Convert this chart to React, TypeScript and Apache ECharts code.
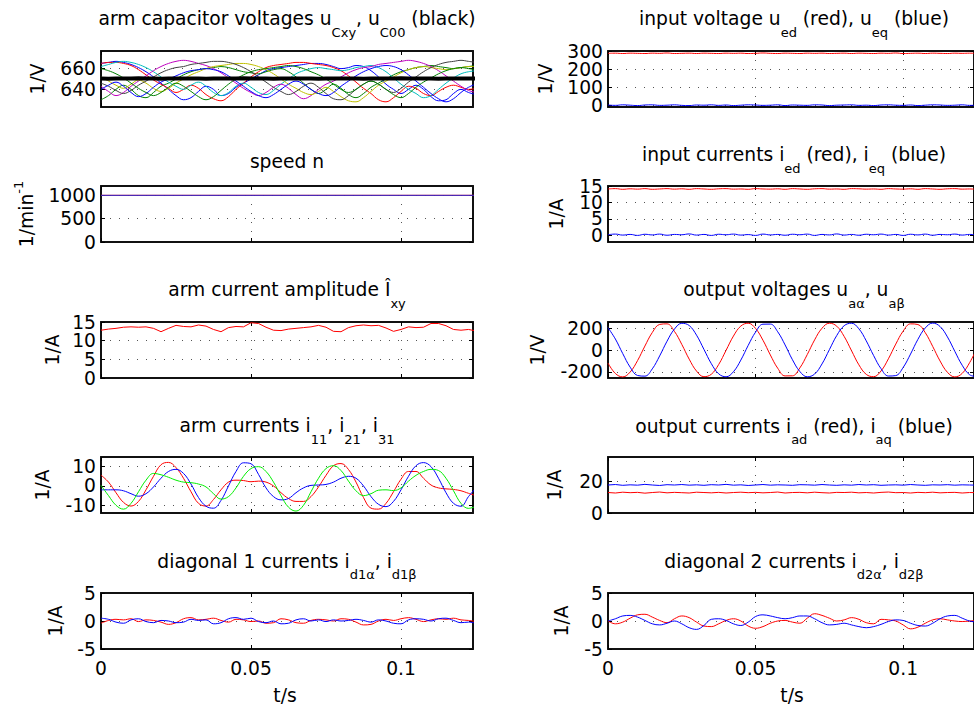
import React, { useEffect, useRef } from 'react';
import * as echarts from 'echarts';

// ---------- data ----------
const T = [0, 0.0025, 0.005, 0.0075, 0.01, 0.0125, 0.015, 0.0175, 0.02, 0.0225, 0.025, 0.0275, 0.03, 0.0325, 0.035, 0.0375, 0.04, 0.0425, 0.045, 0.0475, 0.05, 0.0525, 0.055, 0.0575, 0.06, 0.0625, 0.065, 0.0675, 0.07, 0.0725, 0.075, 0.0775, 0.08, 0.0825, 0.085, 0.0875, 0.09, 0.0925, 0.095, 0.0975, 0.1, 0.1025, 0.105, 0.1075, 0.11, 0.1125, 0.115, 0.1175, 0.12, 0.1225, 0.125];
const T_SPEED = [0, 0.125];
const T_MAX = 0.124;
const X_TICKS = [0, 0.05, 0.1];

// arm capacitor voltages (9 arms) and mean
const uC11 = [665, 666, 667, 666, 664, 661, 657, 652, 646, 640, 634, 630, 632, 638, 643, 640, 634, 636, 642, 646, 650, 654, 658, 660, 661, 662, 663, 664, 665, 665, 664, 662, 660, 661, 663, 662, 658, 652, 645, 640, 636, 640, 644, 640, 633, 629, 630, 636, 640, 637, 635];
const uC12 = [630, 634, 640, 644, 640, 634, 632, 637, 643, 646, 650, 654, 657, 659, 660, 661, 662, 661, 659, 657, 656, 655, 657, 659, 660, 657, 652, 646, 640, 636, 640, 645, 641, 635, 632, 636, 642, 646, 650, 654, 657, 659, 661, 662, 663, 662, 661, 660, 661, 662, 663];
const uC13 = [665, 666, 666, 665, 663, 659, 654, 649, 645, 641, 637, 640, 644, 641, 635, 631, 629, 633, 640, 646, 652, 657, 661, 663, 664, 665, 666, 666, 665, 664, 663, 661, 658, 653, 647, 641, 636, 630, 628, 632, 638, 643, 641, 636, 634, 638, 642, 644, 642, 640, 641];
const uC21 = [662, 664, 666, 667, 666, 664, 661, 657, 652, 647, 643, 640, 644, 647, 643, 637, 634, 637, 643, 646, 642, 637, 635, 639, 645, 650, 655, 658, 660, 661, 660, 659, 658, 659, 661, 662, 663, 661, 657, 651, 645, 640, 636, 632, 634, 640, 646, 651, 655, 657, 658];
const uC22 = [643, 638, 634, 637, 643, 648, 653, 658, 662, 665, 667, 668, 667, 665, 663, 660, 656, 651, 646, 641, 637, 634, 637, 642, 645, 641, 635, 631, 634, 640, 645, 648, 652, 656, 659, 661, 662, 664, 665, 666, 667, 668, 667, 665, 662, 658, 653, 648, 643, 639, 637];
const uC23 = [652, 648, 644, 641, 645, 649, 646, 641, 638, 641, 646, 650, 654, 657, 660, 662, 663, 664, 665, 665, 664, 662, 659, 655, 650, 645, 641, 637, 635, 638, 642, 638, 633, 629, 628, 632, 638, 644, 648, 652, 656, 659, 661, 662, 661, 660, 659, 660, 661, 662, 662];
const uC31 = [646, 643, 639, 636, 639, 644, 648, 652, 656, 659, 661, 662, 664, 665, 666, 667, 667, 666, 664, 661, 657, 652, 647, 642, 638, 635, 638, 643, 646, 642, 636, 631, 630, 634, 640, 645, 648, 645, 640, 637, 641, 647, 652, 657, 661, 664, 666, 667, 668, 667, 666];
const uC32 = [640, 644, 647, 643, 637, 633, 636, 642, 647, 650, 653, 656, 658, 659, 660, 659, 657, 653, 648, 643, 638, 634, 632, 635, 640, 645, 648, 645, 640, 636, 634, 637, 643, 648, 653, 657, 660, 662, 663, 662, 659, 654, 648, 642, 636, 631, 628, 631, 637, 642, 645];
const uC33 = [660, 658, 655, 651, 646, 641, 637, 634, 637, 642, 646, 643, 638, 633, 630, 633, 639, 645, 650, 654, 657, 659, 660, 661, 662, 663, 662, 660, 657, 654, 650, 645, 640, 637, 640, 645, 648, 645, 640, 635, 632, 636, 642, 647, 651, 655, 658, 660, 661, 660, 659];
const uC00 = [650.5, 650.3, 650.6, 650.4, 650.5, 650.7, 650.4, 650.5, 650.3, 650.6, 650.5, 650.4, 650.6, 650.5, 650.3, 650.5, 650.6, 650.4, 650.5, 650.7, 650.5, 650.4, 650.6, 650.3, 650.5, 650.6, 650.4, 650.5, 650.5, 650.3, 650.6, 650.5, 650.4, 650.6, 650.5, 650.3, 650.5, 650.6, 650.4, 650.5, 650.7, 650.5, 650.4, 650.6, 650.5, 650.3, 650.5, 650.6, 650.4, 650.5, 650.5];
const CAP_TICKS = [640, 660];

// input voltage
const ued = [287, 288, 286, 288, 287, 286, 288, 287, 289, 286, 287, 288, 286, 288, 287, 286, 288, 287, 288, 286, 287, 289, 287, 286, 288, 287, 286, 288, 287, 288, 286, 287, 288, 286, 288, 287, 286, 288, 287, 289, 286, 287, 288, 286, 288, 287, 286, 288, 287, 288, 287];
const ueq = [1, -1, 2, 0, -2, 1, 2, -1, 0, 2, -1, -2, 1, 0, 2, -1, 1, -2, 0, 2, 1, -1, 0, 2, -2, 1, 0, -1, 2, 1, -2, 0, 1, 2, -1, 0, -2, 1, 2, 0, -1, 1, -2, 0, 2, 1, -1, 0, 2, -1, 0];
const UE_TICKS = [0, 100, 200, 300];

// speed
const nRef = [1000, 1000];
const nAct = [1000, 1000];
const N_TICKS = [0, 500, 1000];

// input currents
const ied = [14.1, 14.2, 14.0, 14.15, 14.05, 14.2, 14.0, 14.1, 14.2, 14.05, 14.15, 14.0, 14.2, 14.1, 14.0, 14.15, 14.2, 14.05, 14.1, 14.0, 14.2, 14.1, 14.05, 14.15, 14.0, 14.2, 14.1, 14.0, 14.15, 14.2, 14.05, 14.1, 14.0, 14.2, 14.15, 14.05, 14.1, 14.0, 14.2, 14.1, 14.05, 14.15, 14.0, 14.2, 14.1, 14.0, 14.15, 14.2, 14.05, 14.1, 14.0];
const ieq = [0.2, 0.4, 0.1, 0.3, 0.0, 0.35, 0.15, 0.4, 0.05, 0.3, 0.2, 0.45, 0.1, 0.3, 0.0, 0.35, 0.2, 0.4, 0.1, 0.25, 0.0, 0.4, 0.15, 0.3, 0.05, 0.35, 0.2, 0.4, 0.0, 0.3, 0.15, 0.45, 0.1, 0.3, 0.05, 0.35, 0.2, 0.4, 0.1, 0.3, 0.0, 0.35, 0.15, 0.4, 0.05, 0.3, 0.2, 0.4, 0.1, 0.3, 0.15];
const IE_TICKS = [0, 5, 10, 15];

// arm current amplitude
const iAmp = [12.8, 13.1, 13.3, 13.6, 13.7, 13.6, 13.7, 13.3, 12.4, 13.3, 14.1, 13.8, 13.7, 14.2, 13.9, 13.0, 12.4, 13.5, 13.8, 13.7, 14.8, 14.6, 13.6, 12.8, 12.7, 13.1, 13.3, 13.5, 13.7, 14.1, 13.6, 12.5, 12.4, 13.5, 14.0, 14.2, 14.0, 14.1, 13.4, 12.5, 13.0, 13.7, 13.5, 13.6, 14.6, 14.6, 14.0, 13.0, 12.8, 13.0, 12.6];
const AMP_TICKS = [0, 5, 10, 15];

// output voltages
const uaAlpha = [-119, -214, -245, -201, -97, 36, 159, 233, 238, 170, 51, -83, -192, -243, -221, -132, -3, 127, 218, 244, 196, 89, -45, -166, -236, -235, -163, -42, 92, 198, 244, 217, 124, -6, -135, -222, -243, -191, -80, 54, 172, 238, 232, 157, 33, -100, -203, -245, -213, -116, 15];
const uaBeta = [203, 100, -33, -156, -232, -238, -172, -54, 80, 190, 243, 223, 135, 6, -124, -217, -244, -198, -92, 42, 163, 235, 236, 166, 46, -89, -196, -244, -219, -127, 3, 132, 221, 244, 193, 83, -51, -170, -237, -233, -159, -37, 97, 201, 245, 214, 119, -12, -139, -225, -242];
const UA_TICKS = [-200, 0, 200];

// arm currents
const i11 = [5.6, 2.0, -3.5, -8.5, -10.4, -8.0, -2.0, 5.0, 11.0, 12.2, 9.5, 4.0, -3.0, -9.0, -10.4, -7.0, -2.0, 2.0, 3.0, 2.8, 2.2, 2.5, 2.0, 0, -3.5, -6.5, -8.0, -8.0, -5.5, -0.5, 5.5, 10.5, 11.6, 8.5, 2.0, -6.0, -11.5, -12.0, -9.0, -3.0, 3.5, 7.5, 7.5, 4.0, 0.5, -1.0, -1.5, -1.8, -2.5, -3.8, -5.0];
const i21 = [-2.0, -2.0, -2.0, -2.5, -4.0, -5.3, -4.0, -0.5, 4.0, 7.5, 8.6, 6.5, 1.0, -6.0, -10.5, -11.5, -7.5, 0, 7.5, 12.0, 11.5, 6.0, -1.0, -5.5, -7.2, -6.5, -3.5, -1.0, 0.3, 0.5, 0.8, 2.0, 4.0, 5.0, 4.0, 0, -5.5, -9.5, -10.7, -8.0, -2.0, 5.0, 10.5, 12.1, 10.0, 4.0, -3.5, -9.0, -10.5, -5.5, -1.0];
const i31 = [0.3, -5.0, -10.0, -12.0, -9.0, -3.0, 3.0, 6.5, 5.8, 4.5, 3.0, 2.0, 1.7, 1.0, -0.5, -4.0, -6.8, -5.5, -1.0, 5.0, 9.0, 10.0, 7.5, 2.0, -5.0, -11.0, -13.0, -10.0, -3.0, 4.0, 9.0, 10.5, 8.0, 2.5, -2.5, -5.0, -4.0, -2.2, -2.0, -2.4, -1.0, 2.5, 5.5, 7.5, 8.6, 8.0, 4.0, -2.5, -9.0, -11.6, -10.5];
const IARM_TICKS = [-10, 0, 10];

// output currents
const iad = [12.8, 12.5, 13.0, 12.7, 12.9, 12.4, 12.8, 13.1, 12.6, 12.9, 12.7, 12.5, 13.0, 12.8, 12.6, 12.9, 12.5, 12.8, 13.0, 12.7, 12.9, 12.6, 12.8, 13.1, 12.5, 12.8, 12.9, 12.6, 13.0, 12.7, 12.5, 12.9, 12.8, 13.0, 12.6, 12.8, 12.5, 12.9, 13.1, 12.7, 12.8, 12.5, 12.9, 12.7, 13.0, 12.6, 12.8, 12.9, 12.5, 12.8, 12.7];
const iaq = [17.5, 17.8, 17.3, 17.6, 17.4, 17.9, 17.5, 17.2, 17.7, 17.5, 17.8, 17.4, 17.6, 17.3, 17.7, 17.5, 17.9, 17.4, 17.6, 17.2, 17.5, 17.8, 17.4, 17.6, 17.5, 17.3, 17.7, 17.6, 17.4, 17.8, 17.5, 17.3, 17.6, 17.4, 17.8, 17.5, 17.7, 17.3, 17.5, 17.6, 17.4, 17.8, 17.5, 17.3, 17.6, 17.5, 17.7, 17.4, 17.6, 17.5, 17.4];
const IA_TICKS = [0, 20];

// diagonal currents
const id1Alpha = [-0.4, 0.1, 0.3, 0.2, 0.4, -0.1, 0.2, 0.1, -0.2, -0.6, -0.3, 0.4, 0.6, 0.2, 0.3, 0.5, 0.1, -0.2, 0.3, 0.2, -0.1, 0.0, -0.4, -0.3, 0.4, 0.2, -0.3, -0.4, 0.1, 0.3, 0.2, 0.0, 0.4, 0.3, -0.2, -0.7, -0.6, 0.0, 0.3, 0.1, 0.4, 0.6, 0.3, -0.1, 0.2, 0.4, 0.3, 0.5, 0.2, 0.1, -0.1];
const id1Beta = [0.5, 0.3, -0.2, -0.4, 0.2, 0.4, -0.1, -0.3, 0.1, 0.0, -0.3, -0.2, 0.3, 0.1, 0.2, -0.5, -0.3, 0.4, 0.6, 0.3, 0.5, -0.1, -0.3, 0.0, -0.5, -0.4, 0.2, 0.4, 0.0, 0.2, -0.1, 0.2, 0.0, 0.1, 0.3, 0.1, -0.2, 0.2, 0.0, -0.4, -0.5, 0.2, 0.4, 0.3, 0.0, 0.4, 0.5, 0.1, -0.3, -0.2, -0.4];
const id2Alpha = [0, -0.5, -0.2, 0.5, 1.1, 1.2, 0.7, 0.1, -0.3, 0.4, 0.9, 0.6, -0.2, -0.9, -1.0, -0.5, 0.1, 0.4, 0.0, -0.9, -1.3, -1.0, -0.4, 0.0, 0.1, -0.2, -0.4, 0.5, 1.3, 1.0, 0.5, 0.0, 0.2, 0.6, 0.3, -0.3, -0.5, 0.3, 0.2, 0.0, -0.7, -1.4, -1.1, -0.4, 0.2, 0.4, 0.2, 0.0, -0.1, 0.0, 0.1];
const id2Beta = [0, 0.4, 0.9, 1.0, 0.7, 0.1, -0.5, -0.7, -0.4, 0.0, -0.5, -1.2, -1.5, -0.8, 0.3, 0.4, 0.1, -0.5, -0.8, -0.2, 0.8, 1.1, 0.9, 0.6, 0.4, 0.6, 0.9, 0.9, 0.4, -0.3, -0.7, -0.6, -0.4, -0.7, -1.0, -1.2, -1.0, -0.6, -0.1, 0.2, 0.1, -0.4, -0.8, -0.9, -0.4, 0.4, 0.9, 1.0, 0.5, 0.0, -0.2];
const ID_TICKS = [-5, 0, 5];

// ---------- layout & style ----------
const FF = 'DejaVu Sans';
const FS = 18.7;
const SUB = 13;
const COL_X = [101, 608];
const PW = 372;
const ROW_TOP = [51, 186, 322, 457, 593];
const PH = 56;
const RED = '#ff0000';
const BLUE = '#0000ff';

type S = { v: number[]; c: string; w?: number; sm?: number; t?: number[] };
type P = {
  row: number; col: number; min: number; max: number; ticks: number[];
  title: string; titleB: number; yName: string; yNameX: number; series: S[];
};

const panels: P[] = [
  {
    row: 0, col: 0, min: 623, max: 677, ticks: CAP_TICKS, titleB: 25, yName: '{m|1/V}', yNameX: 37.5,
    title: '{m|arm capacitor voltages u}{s|Cxy}{m|, u}{s|C00}{m| (black)}',
    series: [
      { v: uC11, c: '#0000ff', sm: 0.4 }, { v: uC12, c: '#008000', sm: 0.4 }, { v: uC13, c: '#ff0000', sm: 0.4 },
      { v: uC21, c: '#00bfbf', sm: 0.4 }, { v: uC22, c: '#bf00bf', sm: 0.4 }, { v: uC23, c: '#bfbf00', sm: 0.4 },
      { v: uC31, c: '#404040', sm: 0.4 }, { v: uC32, c: '#0000ff', sm: 0.4 }, { v: uC33, c: '#008000', sm: 0.4 },
      { v: uC00, c: '#000000', w: 4 },
    ],
  },
  {
    row: 0, col: 1, min: -10, max: 300, ticks: UE_TICKS, titleB: 25, yName: '{m|1/V}', yNameX: 545,
    title: '{m|input voltage u}{s|ed}{m| (red), u}{s|eq}{m| (blue)}',
    series: [{ v: ued, c: RED, sm: 0.5 }, { v: ueq, c: BLUE, sm: 0.5 }],
  },
  {
    row: 1, col: 0, min: 0, max: 1200, ticks: N_TICKS, titleB: 168.3, yName: '{m|1/min}{p|-1}', yNameX: 26.7,
    title: '{m|speed n}',
    series: [{ v: nRef, c: RED, t: T_SPEED }, { v: nAct, c: '#2a2ad0', t: T_SPEED }],
  },
  {
    row: 1, col: 1, min: -2, max: 15, ticks: IE_TICKS, titleB: 161, yName: '{m|1/A}', yNameX: 556.7,
    title: '{m|input currents i}{s|ed}{m| (red), i}{s|eq}{m| (blue)}',
    series: [{ v: ied, c: RED, sm: 0.5 }, { v: ieq, c: BLUE, sm: 0.5 }],
  },
  {
    row: 2, col: 0, min: 0, max: 15, ticks: AMP_TICKS, titleB: 296, yName: '{m|1/A}', yNameX: 52.5,
    title: '{m|arm current amplitude Î}{s|xy}',
    series: [{ v: iAmp, c: RED }],
  },
  {
    row: 2, col: 1, min: -255, max: 255, ticks: UA_TICKS, titleB: 296, yName: '{m|1/V}', yNameX: 537.5,
    title: '{m|output voltages u}{s|aα}{m|, u}{s|aβ}',
    series: [{ v: uaAlpha, c: RED, sm: 0.4 }, { v: uaBeta, c: BLUE, sm: 0.4 }],
  },
  {
    row: 3, col: 0, min: -14, max: 15, ticks: IARM_TICKS, titleB: 432, yName: '{m|1/A}', yNameX: 42.5,
    title: '{m|arm currents i}{s|11}{m|, i}{s|21}{m|, i}{s|31}',
    series: [{ v: i11, c: RED, sm: 0.4 }, { v: i21, c: BLUE, sm: 0.4 }, { v: i31, c: '#00ee00', sm: 0.4 }],
  },
  {
    row: 3, col: 1, min: 0, max: 35, ticks: IA_TICKS, titleB: 432.5, yName: '{m|1/A}', yNameX: 554,
    title: '{m|output currents i}{s|ad}{m| (red), i}{s|aq}{m| (blue)}',
    series: [{ v: iad, c: RED }, { v: iaq, c: BLUE }],
  },
  {
    row: 4, col: 0, min: -5, max: 5, ticks: ID_TICKS, titleB: 567.5, yName: '{m|1/A}', yNameX: 55,
    title: '{m|diagonal 1 currents i}{s|d1α}{m|, i}{s|d1β}',
    series: [{ v: id1Alpha, c: RED, sm: 0.4 }, { v: id1Beta, c: BLUE, sm: 0.4 }],
  },
  {
    row: 4, col: 1, min: -5, max: 5, ticks: ID_TICKS, titleB: 567.5, yName: '{m|1/A}', yNameX: 561,
    title: '{m|diagonal 2 currents i}{s|d2α}{m|, i}{s|d2β}',
    series: [{ v: id2Alpha, c: RED, sm: 0.4 }, { v: id2Beta, c: BLUE, sm: 0.4 }],
  },
];

const RICH = {
  m: { fontSize: FS, lineHeight: 22, fontFamily: FF, fill: '#000', color: '#000' },
  s: { fontSize: SUB, lineHeight: 22, fontFamily: FF, fill: '#000', color: '#000', padding: [27, 0, 0, 0] },
  p: { fontSize: SUB, lineHeight: 22, fontFamily: FF, fill: '#000', color: '#000', padding: [0, 0, 16, 0] },
};

const AXIS_LINE = { show: true, onZero: false, lineStyle: { color: '#111', width: 2 } };
const GRID_LINE = { show: true, lineStyle: { color: '#555', width: 1, type: [1, 8] } };
const fmt = (v: number) => String(v);

function buildOption() {
  const grid: any[] = [];
  const xAxis: any[] = [];
  const yAxis: any[] = [];
  const series: any[] = [];
  const graphic: any[] = [];

  panels.forEach((p, i) => {
    const left = COL_X[p.col];
    const top = ROW_TOP[p.row];
    const bottomRow = p.row === 4;
    grid.push({ left, top, width: PW, height: PH, show: false });
    const xBase = xAxis.length;
    const yBase = yAxis.length;

    xAxis.push({
      gridIndex: i, type: 'value', min: 0, max: T_MAX, position: 'bottom',
      axisLine: AXIS_LINE,
      axisTick: { show: true, inside: true, length: 4, customValues: X_TICKS, lineStyle: { color: '#000' } },
      axisLabel: {
        show: bottomRow, customValues: X_TICKS, margin: 10, fontSize: FS, fontFamily: FF, color: '#000',
        showMinLabel: true, showMaxLabel: true, hideOverlap: false, formatter: fmt,
      },
      splitLine: GRID_LINE,
    });
    xAxis.push({
      gridIndex: i, type: 'value', min: 0, max: T_MAX, position: 'top',
      axisLine: AXIS_LINE,
      axisTick: { show: true, inside: true, length: 4, customValues: X_TICKS, lineStyle: { color: '#000' } },
      axisLabel: { show: false },
      splitLine: { show: false },
    });

    // tick labels split over two overlaid left axes so that close labels are never dropped
    const evenTicks = p.ticks.filter((_, k) => k % 2 === 0);
    const oddTicks = p.ticks.filter((_, k) => k % 2 === 1);
    yAxis.push({
      gridIndex: i, type: 'value', min: p.min, max: p.max, position: 'left',
      axisLine: AXIS_LINE,
      axisTick: { show: true, inside: true, length: 4, customValues: p.ticks, lineStyle: { color: '#000' } },
      axisLabel: {
        show: true, customValues: evenTicks, margin: 5, fontSize: FS, fontFamily: FF, color: '#000',
        showMinLabel: true, showMaxLabel: true, hideOverlap: false, formatter: fmt,
      },
      splitLine: { show: true, lineStyle: GRID_LINE.lineStyle },
    });
    yAxis.push({
      gridIndex: i, type: 'value', min: p.min, max: p.max, position: 'right',
      axisLine: AXIS_LINE,
      axisTick: { show: true, inside: true, length: 4, customValues: p.ticks, lineStyle: { color: '#000' } },
      axisLabel: { show: false },
      splitLine: { show: false },
    });
    if (oddTicks.length) {
      yAxis.push({
        gridIndex: i, type: 'value', min: p.min, max: p.max, position: 'left', offset: 0,
        axisLine: { show: false, onZero: false },
        axisTick: { show: false, customValues: oddTicks },
        axisLabel: {
          show: true, customValues: oddTicks, margin: 5, fontSize: FS, fontFamily: FF, color: '#000',
          showMinLabel: true, showMaxLabel: true, hideOverlap: false, formatter: fmt,
        },
        splitLine: { show: false },
      });
    }

    // splitLine of the main left axis uses all ticks
    yAxis[yBase].axisTick.customValues = p.ticks;

    p.series.forEach((s) => {
      const times = s.t || T;
      series.push({
        type: 'line',
        xAxisIndex: xBase,
        yAxisIndex: yBase,
        data: s.v.map((v, k) => [times[k], v]),
        showSymbol: false,
        symbol: 'none',
        smooth: s.sm || false,
        clip: true,
        lineStyle: { color: s.c, width: s.w || 1 },
        itemStyle: { color: s.c },
        silent: true,
      });
    });

    const cx = left + PW / 2;
    graphic.push({
      type: 'text', x: cx, y: p.titleB - 17.5,
      style: { text: p.title, rich: RICH, align: 'center', verticalAlign: 'top', fontFamily: FF, fontSize: FS, fill: '#000' },
    });
    graphic.push({
      type: 'text', x: p.yNameX, y: top + PH / 2, rotation: Math.PI / 2,
      style: { text: p.yName, rich: RICH, align: 'center', verticalAlign: 'middle', fontFamily: FF, fontSize: FS, fill: '#000' },
    });
    if (bottomRow) {
      graphic.push({
        type: 'text', x: cx - 2, y: 695,
        style: { text: 't/s', align: 'center', verticalAlign: 'middle', fontFamily: FF, fontSize: FS, fill: '#000' },
      });
    }
  });

  return {
    animation: false,
    backgroundColor: '#ffffff',
    textStyle: { fontFamily: FF, color: '#000' },
    grid, xAxis, yAxis, series, graphic,
  };
}

export default function App() {
  const ref = useRef<HTMLDivElement>(null);
  useEffect(() => {
    if (!ref.current) return;
    const chart = echarts.init(ref.current, null, { renderer: 'svg' });
    chart.setOption(buildOption() as any);
    return () => chart.dispose();
  }, []);
  return (
    <div
      ref={ref}
      style={{ position: 'fixed', left: 0, top: 0, width: 974, height: 708, background: '#fff' }}
    />
  );
}
